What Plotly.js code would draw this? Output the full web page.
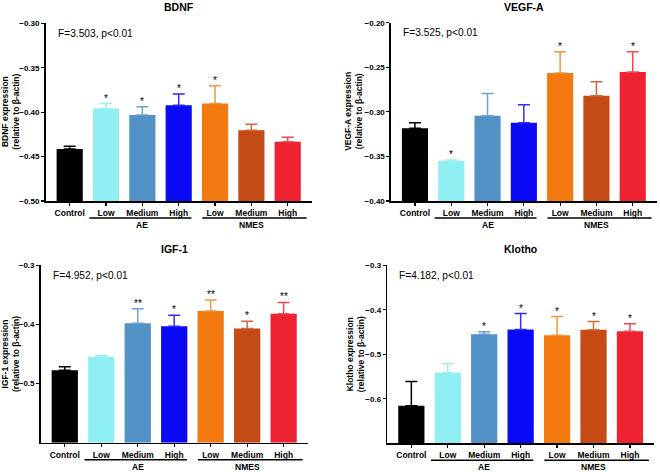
<!DOCTYPE html>
<html><head><meta charset="utf-8">
<script src="https://cdn.plot.ly/plotly-3.0.1.min.js"></script>
<style>body{margin:0;background:#fff}#chart{width:660px;height:472px}</style>
</head><body><div id="chart"></div>
<script>
// ---- data ----
const categories = ["Control", "Low", "Medium", "High", "Low", "Medium", "High"];
const groupNames = ["AE", "NMES"];

const bdnfMean = [-0.4415, -0.3960, -0.4032, -0.3923, -0.3904, -0.4205, -0.4332];
const bdnfErr  = [0.0030, 0.0056, 0.0094, 0.0128, 0.0200, 0.0068, 0.0049];
const bdnfSig  = ["", "*", "*", "*", "*", "", ""];

const vegfMean = [-0.3185, -0.3551, -0.3043, -0.3121, -0.2564, -0.2819, -0.2553];
const vegfErr  = [0.0064, 0.0011, 0.0250, 0.0201, 0.0239, 0.0157, 0.0228];
const vegfSig  = ["", "*", "", "", "*", "", "*"];

const igfMean = [-0.4776, -0.4546, -0.3980, -0.4031, -0.3773, -0.4070, -0.3818];
const igfErr  = [0.0062, 0.0022, 0.0246, 0.0185, 0.0185, 0.0123, 0.0191];
const igfSig  = ["", "", "**", "*", "**", "*", "**"];

const klothoMean = [-0.6156, -0.5416, -0.4548, -0.4444, -0.4571, -0.4451, -0.4481];
const klothoErr  = [0.0546, 0.0202, 0.0052, 0.0359, 0.0419, 0.0187, 0.0165];
const klothoSig  = ["", "", "*", "*", "*", "*", "*"];

const titles = ["BDNF", "VEGF-A", "IGF-1", "Klotho"];
const statTexts = ["F=3.503, p<0.01", "F=3.525, p<0.01", "F=4.952, p<0.01", "F=4.182, p<0.01"];
const yTitles = ["BDNF expression", "VEGF-A expression", "IGF-1 expression", "Klotho expression"];

// ---- styling / layout ----
const colors = ["#000000", "#8FEFF3", "#5292C6", "#0A0AF7", "#F27A10", "#C44A16", "#EE2331"];
const errColors = ["#000000", "#9AF0F3", "#6AA2D0", "#2E2EF7", "#F5953F", "#CF6A3D", "#F04A55"];
const FONT = "Arial, 'Liberation Sans', sans-serif";

const panels = [
  {mean: bdnfMean, err: bdnfErr, sig: bdnfSig, range: [-0.5, -0.3], ticks: [-0.5, -0.45, -0.4, -0.35, -0.3], fmt: ".2f",
   xd: [45.7, 311.7], yd: [23.3, 201], ytx: 10.5},
  {mean: vegfMean, err: vegfErr, sig: vegfSig, range: [-0.4, -0.2], ticks: [-0.4, -0.35, -0.3, -0.25, -0.2], fmt: ".2f",
   xd: [391, 656.7], yd: [22.7, 201], ytx: 354},
  {mean: igfMean, err: igfErr, sig: igfSig, range: [-0.6, -0.3], ticks: [-0.5, -0.4, -0.3], fmt: ".1f",
   xd: [40.7, 307.7], yd: [265.3, 442.7], ytx: 10},
  {mean: klothoMean, err: klothoErr, sig: klothoSig, range: [-0.7, -0.3], ticks: [-0.6, -0.5, -0.4, -0.3], fmt: ".1f",
   xd: [387.3, 654], yd: [265.3, 443.3], ytx: 355}
];

const W = 660, H = 472;
const traces = [];
const layout = {
  width: W, height: H,
  margin: {l: 0, r: 0, t: 0, b: 0},
  paper_bgcolor: "#fff", plot_bgcolor: "#fff",
  showlegend: false, barmode: "overlay",
  font: {family: FONT, color: "#000"},
  annotations: [], shapes: []
};

panels.forEach((p, k) => {
  const sfx = k === 0 ? "" : String(k + 1);
  const xa = "x" + sfx, ya = "y" + sfx;
  const base = p.range[0];
  categories.forEach((c, i) => {
    traces.push({
      type: "bar", x: [i], y: [p.mean[i] - base], base: [base],
      xaxis: xa, yaxis: ya, width: 0.72,
      marker: {color: colors[i], line: {width: 0}},
      error_y: {type: "data", symmetric: false, array: [p.err[i]], arrayminus: [0],
                color: errColors[i], thickness: 1.5, width: 6},
      hoverinfo: "skip"
    });
    if (p.sig[i]) {
      layout.annotations.push({
        xref: xa, yref: ya, x: i, y: p.mean[i] + p.err[i], text: p.sig[i],
        showarrow: false, yanchor: "bottom", yshift: -2,
        font: {family: FONT, size: 10, color: "#000"}
      });
    }
  });
  layout["xaxis" + sfx] = {
    domain: [p.xd[0] / W, p.xd[1] / W], anchor: ya,
    range: [-0.66, 6.66], tickmode: "array", tickvals: [0, 1, 2, 3, 4, 5, 6], ticktext: categories,
    showline: true, linecolor: "#000", linewidth: 1.6, ticks: "outside", ticklen: 3, tickwidth: 1.2,
    tickcolor: "#000", showgrid: false, zeroline: false, fixedrange: true,
    tickfont: {family: FONT, size: 8.5, color: "#000", weight: "bold"}
  };
  layout["yaxis" + sfx] = {
    domain: [1 - p.yd[1] / H, 1 - p.yd[0] / H], anchor: xa,
    range: p.range, tickmode: "array", tickvals: p.ticks, tickformat: p.fmt,
    showline: true, linecolor: "#000", linewidth: 1.6, ticks: "outside", ticklen: 3, tickwidth: 1.2,
    tickcolor: "#000", showgrid: false, zeroline: false, fixedrange: true,
    tickfont: {family: FONT, size: 8, color: "#000", weight: "bold"}
  };
  // title
  layout.annotations.push({
    xref: xa + " domain", yref: ya + " domain", x: 0.5, y: 1, yshift: 16, yanchor: "middle",
    text: "<b>" + titles[k] + "</b>", showarrow: false,
    font: {family: FONT, size: 10.5, color: "#000"}
  });
  // stat text
  layout.annotations.push({
    xref: xa + " domain", yref: ya + " domain", x: 0, y: 1, xshift: 10, yshift: -10,
    xanchor: "left", yanchor: "middle", text: statTexts[k], showarrow: false,
    font: {family: FONT, size: 10.2, color: "#000"}
  });
  // y title
  layout.annotations.push({
    xref: "paper", yref: ya + " domain", x: p.ytx / W, y: 0.5, textangle: -90,
    text: "<b>" + yTitles[k] + "<br>(relative to β-actin)</b>", showarrow: false,
    xanchor: "center", yanchor: "middle",
    font: {family: FONT, size: 8.5, color: "#000"}
  });
  // group lines and labels
  const spans = [[0.54, 3.35], [3.65, 6.52]];
  spans.forEach((s, g) => {
    layout.shapes.push({
      type: "line", xref: xa, yref: ya + " domain", ysizemode: "pixel", yanchor: 0,
      x0: s[0], x1: s[1], y0: -17, y1: -17, line: {color: "#000", width: 1.4}
    });
    layout.annotations.push({
      xref: xa, yref: ya + " domain", x: g === 0 ? 2 : 5, y: 0, yshift: -24, yanchor: "middle",
      text: "<b>" + groupNames[g] + "</b>", showarrow: false,
      font: {family: FONT, size: 8.5, color: "#000"}
    });
  });
});

Plotly.newPlot("chart", traces, layout, {displayModeBar: false, staticPlot: true});
</script>
</body></html>
